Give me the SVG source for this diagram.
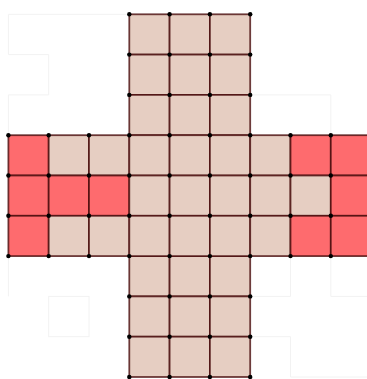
<svg xmlns="http://www.w3.org/2000/svg" width="367" height="379" viewBox="0 0 367 379">
<defs>
<style>
.b{fill:#e6cec2;stroke:#4a0d0d;stroke-opacity:0.8;stroke-width:1.8}
.r{fill:#fe6b6e;stroke:#4a0d0d;stroke-opacity:0.8;stroke-width:1.8}
.f{fill:none;stroke:#f2f2f2;stroke-width:1}
.d{fill:#000}
</style>
<circle id="dot" r="2.2" class="d"/>
</defs>
<rect width="367" height="379" fill="#fff"/>
<g id="faint" class="f">
<polyline points="129.3,14.3 8.4,14.3 8.4,54.6 48.7,54.6 48.7,94.9 8.4,94.9 8.4,135.2"/>
<polyline points="250.2,94.9 330.8,94.9 330.8,135.2"/>
<polyline points="8.4,256.1 8.4,296.4"/>
<rect x="48.7" y="296.4" width="40.3" height="40.3"/>
<polyline points="290.5,256.1 290.5,296.4 250.2,296.4"/>
<polyline points="330.8,256.1 330.8,296.4 367,296.4"/>
<polyline points="250.2,336.7 290.5,336.7 290.5,377 367,377"/>
</g>
<g id="column-top">
<rect class="b" x="129.3" y="14.3" width="40.3" height="40.3"/>
<rect class="b" x="169.6" y="14.3" width="40.3" height="40.3"/>
<rect class="b" x="209.9" y="14.3" width="40.3" height="40.3"/>
<rect class="b" x="129.3" y="54.6" width="40.3" height="40.3"/>
<rect class="b" x="169.6" y="54.6" width="40.3" height="40.3"/>
<rect class="b" x="209.9" y="54.6" width="40.3" height="40.3"/>
<rect class="b" x="129.3" y="94.9" width="40.3" height="40.3"/>
<rect class="b" x="169.6" y="94.9" width="40.3" height="40.3"/>
<rect class="b" x="209.9" y="94.9" width="40.3" height="40.3"/>
</g>
<g id="column-bottom">
<rect class="b" x="129.3" y="256.1" width="40.3" height="40.3"/>
<rect class="b" x="169.6" y="256.1" width="40.3" height="40.3"/>
<rect class="b" x="209.9" y="256.1" width="40.3" height="40.3"/>
<rect class="b" x="129.3" y="296.4" width="40.3" height="40.3"/>
<rect class="b" x="169.6" y="296.4" width="40.3" height="40.3"/>
<rect class="b" x="209.9" y="296.4" width="40.3" height="40.3"/>
<rect class="b" x="129.3" y="336.7" width="40.3" height="40.3"/>
<rect class="b" x="169.6" y="336.7" width="40.3" height="40.3"/>
<rect class="b" x="209.9" y="336.7" width="40.3" height="40.3"/>
</g>
<g id="band-row1">
<rect class="r" x="8.4" y="135.2" width="40.3" height="40.3"/>
<rect class="b" x="48.7" y="135.2" width="40.3" height="40.3"/>
<rect class="b" x="89" y="135.2" width="40.3" height="40.3"/>
<rect class="b" x="129.3" y="135.2" width="40.3" height="40.3"/>
<rect class="b" x="169.6" y="135.2" width="40.3" height="40.3"/>
<rect class="b" x="209.9" y="135.2" width="40.3" height="40.3"/>
<rect class="b" x="250.2" y="135.2" width="40.3" height="40.3"/>
<rect class="r" x="290.5" y="135.2" width="40.3" height="40.3"/>
<rect class="r" x="330.8" y="135.2" width="40.3" height="40.3"/>
</g>
<g id="band-row2">
<rect class="r" x="8.4" y="175.5" width="40.3" height="40.3"/>
<rect class="r" x="48.7" y="175.5" width="40.3" height="40.3"/>
<rect class="r" x="89" y="175.5" width="40.3" height="40.3"/>
<rect class="b" x="129.3" y="175.5" width="40.3" height="40.3"/>
<rect class="b" x="169.6" y="175.5" width="40.3" height="40.3"/>
<rect class="b" x="209.9" y="175.5" width="40.3" height="40.3"/>
<rect class="b" x="250.2" y="175.5" width="40.3" height="40.3"/>
<rect class="b" x="290.5" y="175.5" width="40.3" height="40.3"/>
<rect class="r" x="330.8" y="175.5" width="40.3" height="40.3"/>
</g>
<g id="band-row3">
<rect class="r" x="8.4" y="215.8" width="40.3" height="40.3"/>
<rect class="b" x="48.7" y="215.8" width="40.3" height="40.3"/>
<rect class="b" x="89" y="215.8" width="40.3" height="40.3"/>
<rect class="b" x="129.3" y="215.8" width="40.3" height="40.3"/>
<rect class="b" x="169.6" y="215.8" width="40.3" height="40.3"/>
<rect class="b" x="209.9" y="215.8" width="40.3" height="40.3"/>
<rect class="b" x="250.2" y="215.8" width="40.3" height="40.3"/>
<rect class="r" x="290.5" y="215.8" width="40.3" height="40.3"/>
<rect class="r" x="330.8" y="215.8" width="40.3" height="40.3"/>
</g>
<g id="vertices">
<use href="#dot" x="129.3" y="14.3"/><use href="#dot" x="169.6" y="14.3"/><use href="#dot" x="209.9" y="14.3"/><use href="#dot" x="250.2" y="14.3"/>
<use href="#dot" x="129.3" y="54.6"/><use href="#dot" x="169.6" y="54.6"/><use href="#dot" x="209.9" y="54.6"/><use href="#dot" x="250.2" y="54.6"/>
<use href="#dot" x="129.3" y="94.9"/><use href="#dot" x="169.6" y="94.9"/><use href="#dot" x="209.9" y="94.9"/><use href="#dot" x="250.2" y="94.9"/>
<use href="#dot" x="8.4" y="135.2"/><use href="#dot" x="48.7" y="135.2"/><use href="#dot" x="89" y="135.2"/><use href="#dot" x="129.3" y="135.2"/><use href="#dot" x="169.6" y="135.2"/><use href="#dot" x="209.9" y="135.2"/><use href="#dot" x="250.2" y="135.2"/><use href="#dot" x="290.5" y="135.2"/><use href="#dot" x="330.8" y="135.2"/>
<use href="#dot" x="8.4" y="175.5"/><use href="#dot" x="48.7" y="175.5"/><use href="#dot" x="89" y="175.5"/><use href="#dot" x="129.3" y="175.5"/><use href="#dot" x="169.6" y="175.5"/><use href="#dot" x="209.9" y="175.5"/><use href="#dot" x="250.2" y="175.5"/><use href="#dot" x="290.5" y="175.5"/><use href="#dot" x="330.8" y="175.5"/>
<use href="#dot" x="8.4" y="215.8"/><use href="#dot" x="48.7" y="215.8"/><use href="#dot" x="89" y="215.8"/><use href="#dot" x="129.3" y="215.8"/><use href="#dot" x="169.6" y="215.8"/><use href="#dot" x="209.9" y="215.8"/><use href="#dot" x="250.2" y="215.8"/><use href="#dot" x="290.5" y="215.8"/><use href="#dot" x="330.8" y="215.8"/>
<use href="#dot" x="8.4" y="256.1"/><use href="#dot" x="48.7" y="256.1"/><use href="#dot" x="89" y="256.1"/><use href="#dot" x="129.3" y="256.1"/><use href="#dot" x="169.6" y="256.1"/><use href="#dot" x="209.9" y="256.1"/><use href="#dot" x="250.2" y="256.1"/><use href="#dot" x="290.5" y="256.1"/><use href="#dot" x="330.8" y="256.1"/>
<use href="#dot" x="129.3" y="296.4"/><use href="#dot" x="169.6" y="296.4"/><use href="#dot" x="209.9" y="296.4"/><use href="#dot" x="250.2" y="296.4"/>
<use href="#dot" x="129.3" y="336.7"/><use href="#dot" x="169.6" y="336.7"/><use href="#dot" x="209.9" y="336.7"/><use href="#dot" x="250.2" y="336.7"/>
<use href="#dot" x="129.3" y="377"/><use href="#dot" x="169.6" y="377"/><use href="#dot" x="209.9" y="377"/><use href="#dot" x="250.2" y="377"/>
</g>
</svg>
